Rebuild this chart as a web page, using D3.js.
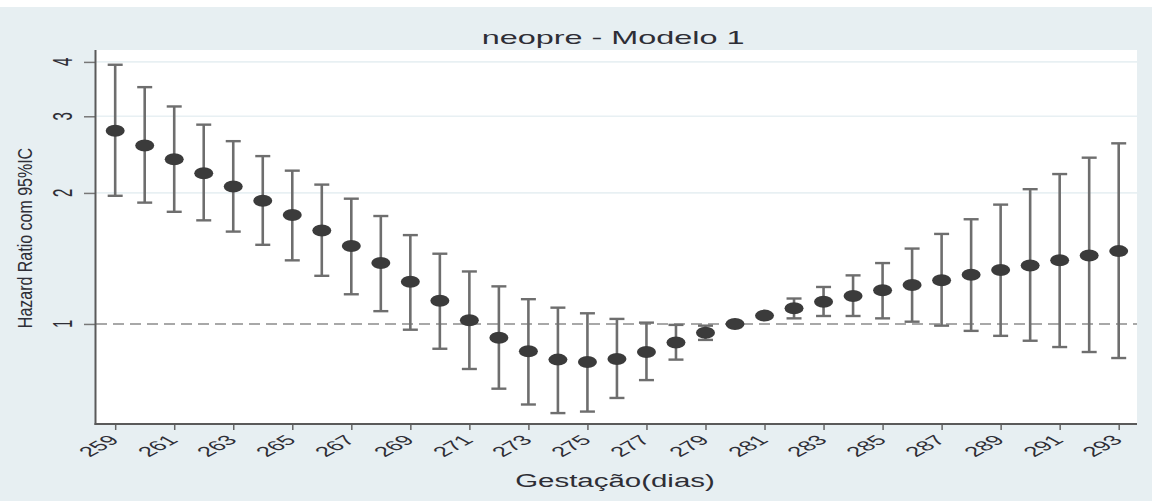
<!DOCTYPE html>
<html>
<head>
<meta charset="utf-8">
<script src="https://cdn.jsdelivr.net/npm/d3@7"></script>
<style>
  html, body { margin: 0; padding: 0; background: #ffffff; }
  svg { display: block; }
  text { font-family: "Liberation Sans", Arial, sans-serif; fill: #2e2e36; }
</style>
</head>
<body>
<svg id="chart" width="1153" height="501"></svg>
<script>
// ---- data ----
const title = "neopre - Modelo 1";
const xTitle = "Gestação(dias)";
const yTitle = "Hazard Ratio com 95%IC";
const days = [259,260,261,262,263,264,265,266,267,268,269,270,271,272,273,274,275,276,
              277,278,279,280,281,282,283,284,285,286,287,288,289,290,291,292,293];
const hr   = [2.78,2.57,2.39,2.22,2.07,1.92,1.78,1.64,1.51,1.38,1.25,1.13,1.02,0.93,0.865,0.828,0.818,0.831,
              0.862,0.907,0.955,1.0,1.045,1.086,1.124,1.16,1.195,1.229,1.26,1.298,1.33,1.363,1.40,1.437,1.47];
const ciLow  = [1.97,1.90,1.81,1.73,1.63,1.52,1.40,1.29,1.17,1.07,0.97,0.877,0.788,0.71,0.653,0.624,0.629,0.676,
              0.743,0.828,0.919,1.0,1.035,1.030,1.043,1.043,1.030,1.012,0.991,0.964,0.939,0.915,0.885,0.862,0.835];
const ciHigh = [3.94,3.50,3.16,2.87,2.63,2.43,2.25,2.09,1.94,1.77,1.60,1.45,1.32,1.22,1.14,1.09,1.058,1.027,
              1.007,0.995,0.991,1.0,1.055,1.144,1.216,1.293,1.38,1.49,1.61,1.74,1.88,2.04,2.21,2.41,2.60];
const xTicks = [259,261,263,265,267,269,271,273,275,277,279,281,283,285,287,289,291,293];
const yTicks = [1,2,3,4];
const refLine = 1;

// ---- layout ----
const W = 1153, H = 501;
const plot = {left: 96, right: 1137, top: 50, bottom: 424};
const sx = 1.85; // horizontal stretch of text glyphs

const svg = d3.select("#chart");

// backgrounds
svg.append("rect").attr("x", 0).attr("y", 7).attr("width", 1152).attr("height", H - 7).attr("fill", "#e7eff2");
svg.append("rect").attr("x", plot.left).attr("y", plot.top)
   .attr("width", plot.right - plot.left).attr("height", plot.bottom - plot.top).attr("fill", "#ffffff");

const x = d3.scaleLinear().domain([258.35, 293.62]).range([plot.left, plot.right]);
const y = d3.scaleLog().domain([0.589, 4.26]).range([plot.bottom, plot.top]);

// grid lines
svg.append("g").selectAll("line").data(yTicks.filter(d => d !== refLine)).join("line")
  .attr("x1", plot.left).attr("x2", plot.right)
  .attr("y1", d => y(d)).attr("y2", d => y(d))
  .attr("stroke", "#e8f0f3").attr("stroke-width", 1.6);

// reference dashed line
svg.append("line")
  .attr("x1", plot.left).attr("x2", plot.right)
  .attr("y1", y(refLine)).attr("y2", y(refLine))
  .attr("stroke", "#a8a8a8").attr("stroke-width", 2).attr("stroke-dasharray", "11,6");

// y axis
const yAxis = d3.axisLeft(y).tickValues(yTicks).tickSize(12).tickFormat("");
const gy = svg.append("g").attr("transform", `translate(${plot.left},0)`).call(yAxis);
gy.select(".domain").remove();
gy.selectAll(".tick line").attr("stroke", "#777").attr("stroke-width", 1.5);
svg.append("line").attr("x1", plot.left - 0.5).attr("x2", plot.left - 0.5)
  .attr("y1", plot.top).attr("y2", plot.bottom + 1).attr("stroke", "#5a5a5a").attr("stroke-width", 2);
svg.append("g").selectAll("text").data(yTicks).join("text")
  .attr("transform", d => `translate(72,${y(d)}) scale(${sx},1) rotate(-90)`)
  .attr("text-anchor", "middle").attr("font-size", 15)
  .text(d => d3.format("d")(d));

// x axis
const xAxis = d3.axisBottom(x).tickValues(xTicks).tickSize(6).tickFormat("");
const gx = svg.append("g").attr("transform", `translate(0,${plot.bottom})`).call(xAxis);
gx.select(".domain").remove();
gx.selectAll(".tick line").attr("stroke", "#666").attr("stroke-width", 1.5);
svg.append("line").attr("x1", plot.left - 1.5).attr("x2", plot.right)
  .attr("y1", plot.bottom).attr("y2", plot.bottom).attr("stroke", "#5a5a5a").attr("stroke-width", 2);
svg.append("g").selectAll("text").data(xTicks).join("text")
  .attr("transform", d => `translate(${x(d) + 5},441) scale(${sx},1) rotate(-45)`)
  .attr("text-anchor", "end").attr("font-size", 14)
  .text(d => d);

// error bars
const cap = 7.5;
const g = svg.append("g");
const rows = days.map((d, i) => ({d, v: hr[i], lo: ciLow[i], hi: ciHigh[i]}));
g.selectAll("line.whisk").data(rows).join("line").attr("class", "whisk")
  .attr("x1", r => x(r.d)).attr("x2", r => x(r.d))
  .attr("y1", r => y(r.lo)).attr("y2", r => y(r.hi))
  .attr("stroke", "#6e6e6e").attr("stroke-width", 2.6);
g.selectAll("line.capHi").data(rows).join("line").attr("class", "capHi")
  .attr("x1", r => x(r.d) - cap).attr("x2", r => x(r.d) + cap)
  .attr("y1", r => y(r.hi)).attr("y2", r => y(r.hi))
  .attr("stroke", "#6e6e6e").attr("stroke-width", 2.4);
g.selectAll("line.capLo").data(rows).join("line").attr("class", "capLo")
  .attr("x1", r => x(r.d) - cap).attr("x2", r => x(r.d) + cap)
  .attr("y1", r => y(r.lo)).attr("y2", r => y(r.lo))
  .attr("stroke", "#6e6e6e").attr("stroke-width", 2.4);
g.selectAll("ellipse").data(rows).join("ellipse")
  .attr("cx", r => x(r.d)).attr("cy", r => y(r.v))
  .attr("rx", 9.5).attr("ry", 6)
  .attr("fill", "#3b3b3b");

// titles
svg.append("text").attr("transform", `translate(613,44) scale(1.8,1)`)
  .attr("text-anchor", "middle").attr("font-size", 18).text(title);
svg.append("text").attr("transform", `translate(615,487) scale(1.55,1)`)
  .attr("text-anchor", "middle").attr("font-size", 19).text(xTitle);
svg.append("text").attr("transform", `translate(32,238) scale(1.31,1) rotate(-90)`)
  .attr("text-anchor", "middle").attr("font-size", 16).text(yTitle);
</script>
</body>
</html>
